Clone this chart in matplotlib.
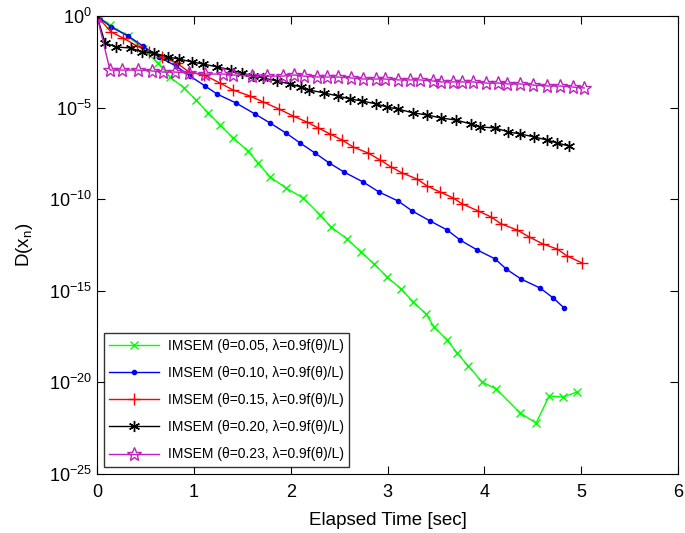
import numpy as np
import matplotlib
matplotlib.use("Agg")
import matplotlib.pyplot as plt

plt.rcParams['font.family'] = ['Liberation Sans', 'DejaVu Sans']
plt.rcParams['mathtext.fontset'] = 'custom'
plt.rcParams['mathtext.rm'] = 'Liberation Sans'
plt.rcParams['mathtext.it'] = 'Liberation Sans'

# data: time [sec], log10 D(x_n)
t_005 = [0, 0.134, 0.320, 0.475, 0.630, 0.754, 0.899, 1.023, 1.147, 1.271, 1.405, 1.560,
         1.663, 1.787, 1.952, 2.128, 2.304, 2.417, 2.583, 2.727, 2.862, 2.996, 3.140, 3.264,
         3.399, 3.481, 3.616, 3.719, 3.833, 3.977, 4.122, 4.370, 4.535, 4.669, 4.814, 4.959]
d_005 = [0, -0.49, -1.09, -1.80, -2.57, -3.33, -3.93, -4.59, -5.29, -5.95, -6.66, -7.37,
         -8.02, -8.79, -9.39, -9.93, -10.86, -11.52, -12.17, -12.88, -13.54, -14.25, -14.90, -15.61,
         -16.27, -16.98, -17.69, -18.40, -19.10, -19.98, -20.36, -21.67, -22.22, -20.74, -20.80, -20.52]

t_010 = [0, 0.145, 0.320, 0.475, 0.640, 0.816, 0.961, 1.116, 1.240, 1.436, 1.632, 1.787,
         1.952, 2.097, 2.252, 2.397, 2.552, 2.748, 2.913, 3.110, 3.254, 3.440, 3.616, 3.750,
         3.926, 4.112, 4.225, 4.380, 4.576, 4.711, 4.824]
d_010 = [0, -0.60, -1.09, -1.64, -2.24, -2.73, -3.28, -3.82, -4.26, -4.75, -5.35, -5.84,
         -6.39, -6.93, -7.48, -8.02, -8.52, -9.06, -9.61, -10.10, -10.64, -11.19, -11.68, -12.23,
         -12.77, -13.26, -13.81, -14.36, -14.85, -15.39, -15.94]

t_015 = [0, 0.145, 0.269, 0.413, 0.537, 0.671, 0.826, 0.950, 1.105, 1.271, 1.405, 1.581,
         1.715, 1.880, 2.025, 2.169, 2.283, 2.407, 2.531, 2.645, 2.800, 2.924, 3.037, 3.151,
         3.306, 3.409, 3.543, 3.678, 3.771, 3.936, 4.070, 4.174, 4.339, 4.463, 4.607, 4.752,
         4.855, 5.010]
d_015 = [0, -0.87, -1.20, -1.64, -1.97, -2.24, -2.57, -3.06, -3.22, -3.66, -4.04, -4.37,
         -4.69, -5.08, -5.46, -5.79, -6.11, -6.44, -6.77, -7.15, -7.48, -7.86, -8.24, -8.57,
         -8.90, -9.28, -9.61, -9.93, -10.26, -10.64, -10.97, -11.35, -11.68, -12.06, -12.45, -12.72,
         -13.10, -13.48]

t_020 = [0, 0.083, 0.196, 0.351, 0.465, 0.589, 0.733, 0.847, 0.981, 1.095, 1.240, 1.384,
         1.498, 1.612, 1.715, 1.860, 1.994, 2.107, 2.190, 2.345, 2.490, 2.614, 2.738, 2.882,
         2.996, 3.110, 3.264, 3.409, 3.554, 3.709, 3.864, 3.957, 4.112, 4.246, 4.370, 4.514,
         4.649, 4.752, 4.876]
d_020 = [0, -1.47, -1.69, -1.75, -1.97, -2.02, -2.24, -2.35, -2.51, -2.62, -2.78, -2.95,
         -3.11, -3.28, -3.38, -3.55, -3.71, -3.88, -4.04, -4.20, -4.37, -4.53, -4.64, -4.80,
         -4.97, -5.08, -5.29, -5.40, -5.57, -5.68, -5.90, -6.06, -6.11, -6.33, -6.44, -6.60,
         -6.77, -6.93, -7.10]

t_023 = [0, 0.134, 0.258, 0.424, 0.568, 0.682, 0.806, 0.950, 1.116, 1.302, 1.405, 1.601,
         1.756, 1.921, 2.035, 2.138, 2.273, 2.376, 2.490, 2.624, 2.748, 2.882, 2.975, 3.110,
         3.233, 3.337, 3.471, 3.554, 3.678, 3.771, 3.884, 4.019, 4.143, 4.236, 4.370, 4.504,
         4.649, 4.783, 4.917, 5.031]
d_023 = [0, -2.95, -2.95, -2.95, -3.00, -3.06, -3.06, -3.11, -3.17, -3.17, -3.22, -3.28,
         -3.28, -3.28, -3.22, -3.28, -3.33, -3.33, -3.33, -3.38, -3.44, -3.44, -3.44, -3.49,
         -3.49, -3.49, -3.55, -3.60, -3.60, -3.60, -3.60, -3.66, -3.66, -3.71, -3.71, -3.77,
         -3.82, -3.82, -3.88, -3.93]

labels = ['IMSEM (θ=0.05, λ=0.9f(θ)/L)',
          'IMSEM (θ=0.10, λ=0.9f(θ)/L)',
          'IMSEM (θ=0.15, λ=0.9f(θ)/L)',
          'IMSEM (θ=0.20, λ=0.9f(θ)/L)',
          'IMSEM (θ=0.23, λ=0.9f(θ)/L)']

fig = plt.figure(figsize=(6.85, 5.33), dpi=100)
ax = fig.add_axes([0.1416, 0.1107, 0.8482, 0.8593])

ax.semilogy(t_005, np.power(10.0, d_005), color=(0, 1, 0), marker='x', ms=6, lw=1, label=labels[0])
ax.semilogy(t_010, np.power(10.0, d_010), color=(0, 0, 1), marker='o', ms=3, lw=1, label=labels[1])
ax.semilogy(t_015, np.power(10.0, d_015), color=(1, 0, 0), marker='+', ms=9, mew=1, lw=1, label=labels[2])
ax.semilogy(t_020, np.power(10.0, d_020), color='k', marker=(6, 2, 0), ms=8, mew=1, lw=1, label=labels[3])
ax.semilogy(t_023, np.power(10.0, d_023), color='#c020c0', marker='*', ms=10, mfc='none', mew=1,
            lw=1, label=labels[4])

ax.set_xlim(0, 6)
ax.set_ylim(1e-25, 1)
ax.set_xticks([0, 1, 2, 3, 4, 5, 6])
ax.set_yticks([1e-25, 1e-20, 1e-15, 1e-10, 1e-5, 1])
ax.yaxis.set_minor_locator(matplotlib.ticker.NullLocator())
ax.tick_params(direction='in', top=True, right=True, labelsize=13, length=6)
ax.tick_params(axis='x', pad=7)
ax.set_xlabel('Elapsed Time [sec]', fontsize=13.5, labelpad=8)
ax.set_ylabel(r'D(x$_n$)', fontsize=13.5, labelpad=10)

leg = ax.legend(loc='lower left', fontsize=10, frameon=True, fancybox=False,
                edgecolor='k', handlelength=3.6, handletextpad=0.6,
                borderaxespad=0.5, labelspacing=0.95)
leg.get_frame().set_linewidth(1)

fig.savefig('out.png', dpi=100)
